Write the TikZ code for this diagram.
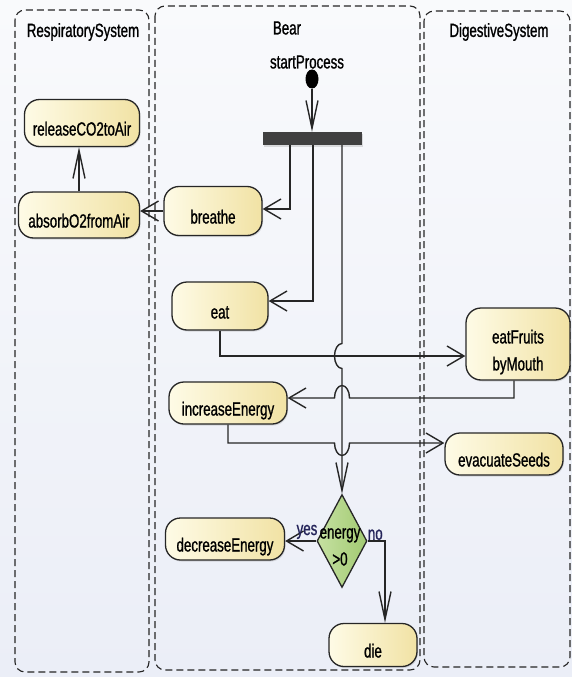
\documentclass[tikz,border=0pt]{standalone}
\usepackage{fontspec}
\setmainfont{Liberation Sans}[FakeStretch=0.7, FakeBold=1]
\usetikzlibrary{arrows.meta, shapes.geometric, calc, shadows}
\definecolor{bgtop}{HTML}{F9FAFC}
\definecolor{bgbottom}{HTML}{EBEEF7}
\definecolor{actlight}{HTML}{FEFBE6}
\definecolor{actdark}{HTML}{F1E2A4}
\definecolor{declight}{HTML}{C6E1A2}
\definecolor{decdark}{HTML}{A2CA72}
\definecolor{edge}{HTML}{262626}
\definecolor{guard}{HTML}{24245A}

\begin{document}
\begin{tikzpicture}[x=1pt, y=-1pt,
    font=\fontsize{19}{27}\selectfont,
    lane/.style={draw=edge, line width=1.1pt, dash pattern=on 7pt off 4pt, rounded corners=10pt},
    act/.style={draw=edge, line width=1.3pt, rounded corners=15pt, left color=actlight, right color=actdark,
      inner sep=0pt, text height=25pt, text depth=0pt,
      drop shadow={opacity=0.25, shadow xshift=1pt, shadow yshift=-1.5pt}},
    hflow/.style={-{Straight Barb[length=17pt, width=20pt]}, draw=edge, line width=1.4pt},
    vflow/.style={-{Straight Barb[length=28pt, width=12pt]}, draw=edge, line width=1.4pt}]
  % background and swimlanes
  \fill[top color=bgtop, bottom color=bgbottom] (0,0) rectangle (572,677);
  \useasboundingbox (0,0) rectangle (572,677);
  \draw[lane] (15,10) rectangle (149,672);
  \draw[lane] (155,6) rectangle (420,670);
  \draw[lane] (424,11) rectangle (570,667);
  \node (respTitle) at (83,32) {RespiratorySystem};
  \node (bearTitle) at (287,28) {Bear};
  \node (digTitle) at (499,32) {DigestiveSystem};

  % activities
  \node[act, minimum width=115pt, minimum height=47pt] (release) at (82,123) {releaseCO2toAir};
  \node[act, minimum width=121pt, minimum height=46pt] (absorb) at (79,215) {absorbO2fromAir};
  \node[act, minimum width=98pt, minimum height=49pt] (breathe) at (213,211) {breathe};
  \node[act, minimum width=96pt, minimum height=48pt] (eat) at (220,306) {eat};
  \node[act, minimum width=118pt, minimum height=42pt] (incEnergy) at (228,403) {increaseEnergy};
  \node[act, minimum width=119pt, minimum height=42pt] (decEnergy) at (225,539) {decreaseEnergy};
  \node[act, minimum width=88pt, minimum height=43pt] (die) at (373,645) {die};
  \node[act, minimum width=104pt, minimum height=72pt] (eatFruits) at (518,344) {};
  \node[align=center] (eatFruitsText) at (518,352) {eatFruits\\byMouth};
  \node[act, minimum width=118pt, minimum height=42pt] (seeds) at (504,454) {evacuateSeeds};

  % start, fork and decision
  \node[ellipse, fill=black, minimum width=13pt, minimum height=19pt, inner sep=0pt] (start) at (312,79) {};
  \node (startLbl) at (307,62) {startProcess};
  \node[fill=black!75, minimum width=99pt, minimum height=13pt, inner sep=0pt,
    drop shadow={opacity=0.25, shadow xshift=1pt, shadow yshift=-1.5pt}] (fork) at (312.5,138.5) {};
  \node[diamond, draw=edge, line width=1.3pt, left color=declight, right color=decdark,
    minimum width=50pt, minimum height=93pt, inner sep=0pt, aspect=0.54] (energyTest) at (342,541) {};
  \node[align=center] (energyText) at (340,547) {energy\\>0};

  % flows
  \draw[vflow] (start) -- (start |- fork.north);
  \draw[hflow] ($(fork.south)+(-22.5,0)$) |- ($(breathe.east)+(0,-2)$);
  \draw[hflow] ($(fork.south)+(0.5,0)$) |- ($(eat.east)+(0,-5)$);
  \draw[hflow] (breathe.west) -- (breathe.west -| absorb.east);
  \draw[vflow] (absorb.north) -- (absorb.north |- release.south);

  \coordinate (eatOut) at ($(eatFruits.west)+(0,12)$);
  \coordinate (hopA) at (eatOut -| energyTest.north);
  \draw[hflow] (eat.south) |- (eatOut);
  \draw[vflow] (fork.south -| energyTest.north) -- ($(hopA)+(0,-12.5)$)
    arc[start angle=270, end angle=90, x radius=7.5, y radius=12.5] -- (energyTest.north);

  \coordinate (incIn) at ($(incEnergy.east)+(0,-5)$);
  \coordinate (hopB) at (incIn -| energyTest.north);
  \draw[hflow] ($(eatFruits.south)+(-4,0)$) |- ($(hopB)+(7.5,0)$)
    arc[start angle=0, end angle=-180, x radius=7.5, y radius=12.5] -- (incIn);

  \coordinate (seedsIn) at ($(seeds.west)+(0,-11)$);
  \coordinate (hopC) at (seedsIn -| energyTest.north);
  \draw[hflow] (incEnergy.south) |- ($(hopC)+(-7.5,0)$)
    arc[start angle=180, end angle=0, x radius=7.5, y radius=12.5] -- (seedsIn);

  \draw[hflow] (energyTest.west) -- node[pos=0.3, above=-2pt, text=guard] (yesLbl) {yes}
    (energyTest.west -| decEnergy.east);
  \draw[vflow] (energyTest.east) -| node[pos=0.22, above=-3pt, text=guard] (noLbl) {no}
    ($(die.north)+(12,0)$);
\end{tikzpicture}
\end{document}
